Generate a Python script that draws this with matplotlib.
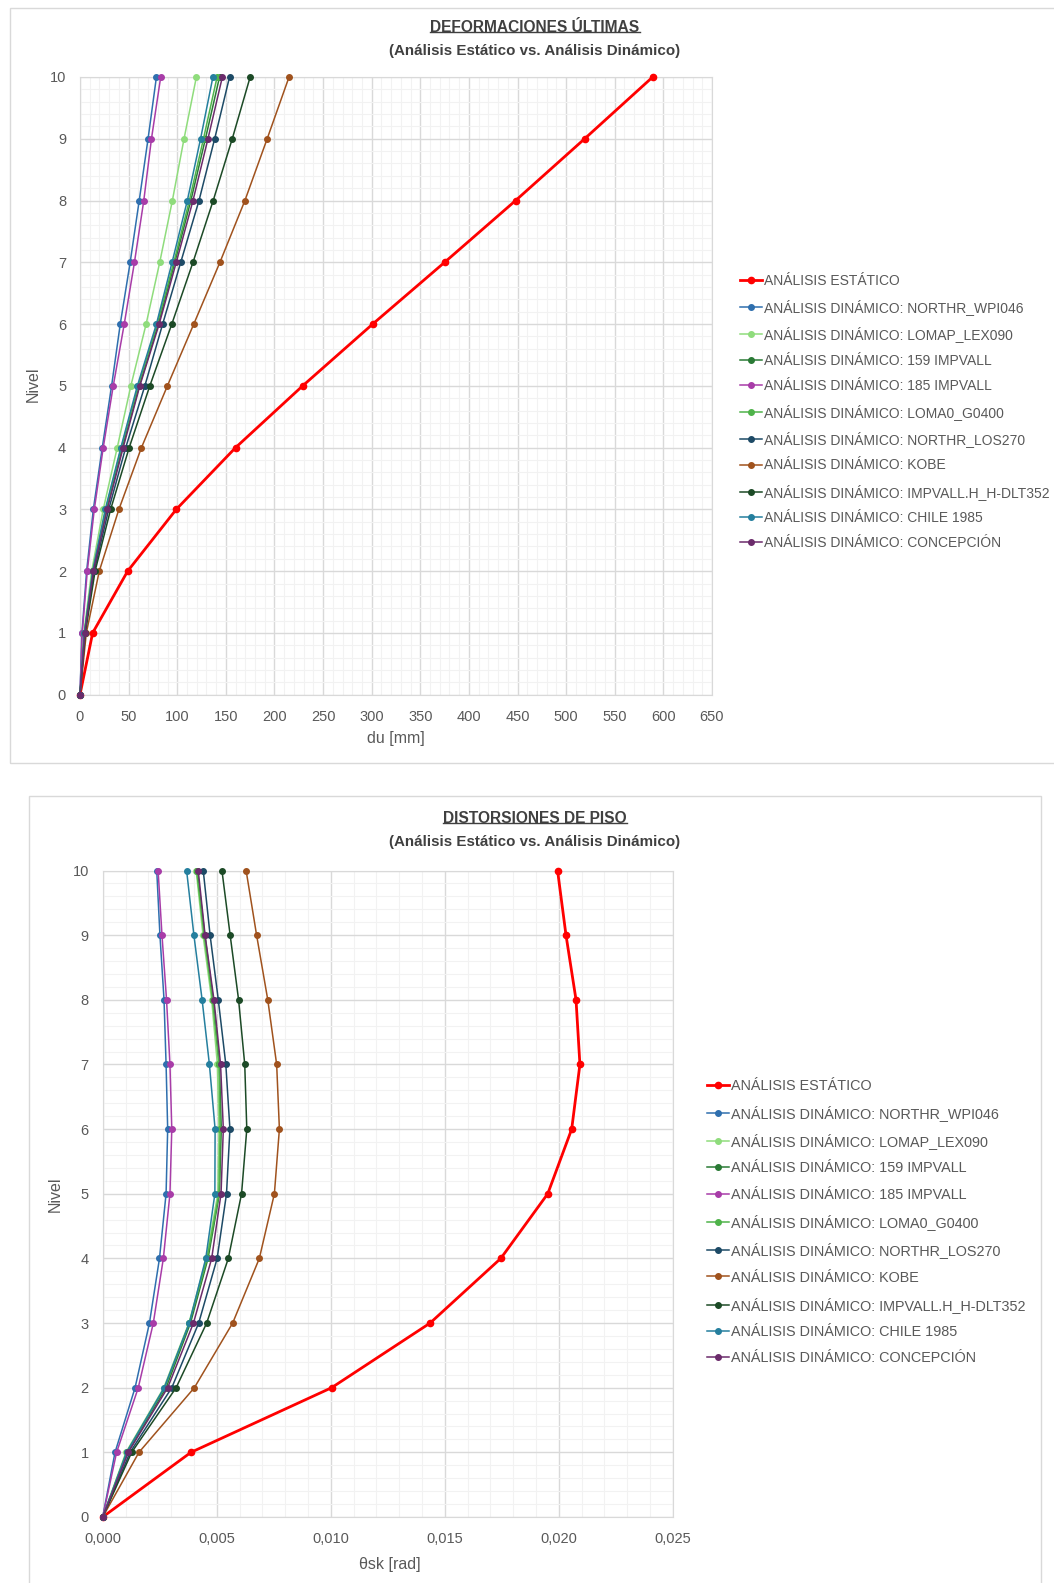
import matplotlib
matplotlib.use("Agg")
import matplotlib.pyplot as plt
from matplotlib import font_manager
from matplotlib.lines import Line2D
from matplotlib.patches import Rectangle
from matplotlib.ticker import MultipleLocator, FuncFormatter

# ---- data -------------------------------------------------------------
niveles = [0, 1, 2, 3, 4, 5, 6, 7, 8, 9, 10]

series_labels = [
    "ANÁLISIS ESTÁTICO",
    "ANÁLISIS DINÁMICO: NORTHR_WPI046",
    "ANÁLISIS DINÁMICO: LOMAP_LEX090",
    "ANÁLISIS DINÁMICO: 159 IMPVALL",
    "ANÁLISIS DINÁMICO: 185 IMPVALL",
    "ANÁLISIS DINÁMICO: LOMA0_G0400",
    "ANÁLISIS DINÁMICO: NORTHR_LOS270",
    "ANÁLISIS DINÁMICO: KOBE",
    "ANÁLISIS DINÁMICO: IMPVALL.H_H-DLT352",
    "ANÁLISIS DINÁMICO: CHILE 1985",
    "ANÁLISIS DINÁMICO: CONCEPCIÓN",
]
series_colors = ["#ff0000", "#2f6fae", "#8fdc7c", "#2a7a35", "#a83ca8", "#4fb34a",
                 "#1d4a66", "#a0521d", "#1c4a26", "#257f9e", "#6b2b6b"]

# deformaciones últimas du [mm]
du_estatico = [0, 13, 49, 99, 160, 229, 301, 375, 448, 519, 589]
du_northr_wpi046 = [0, 2.0, 6.8, 13.7, 22.9, 32.5, 41.4, 51.6, 60.9, 70.0, 78.6]
du_lomap_lex090 = [0, 4.0, 12.0, 23.9, 38.3, 52.3, 68.0, 82.0, 95.0, 107.0, 119.7]
du_159_impvall = [0, 4.7, 13.5, 27.0, 43.5, 61.0, 80.5, 97.5, 114.0, 129.0, 143.5]
du_185_impvall = [0, 2.3, 7.5, 14.7, 23.9, 34.2, 45.5, 56.0, 65.6, 73.5, 83.0]
du_loma0_g0400 = [0, 4.5, 13.2, 26.5, 42.5, 60.0, 79.5, 96.5, 112.5, 127.0, 141.0]
du_northr_los270 = [0, 5.0, 14.5, 29.5, 47.0, 66.7, 85.0, 103.6, 122.4, 138.5, 153.8]
du_kobe = [0, 6.5, 19.8, 40.0, 63.2, 89.9, 117.0, 143.9, 169.6, 192.5, 215.0]
du_impvall_h = [0, 5.5, 15.5, 31.5, 50.6, 71.8, 94.4, 116.2, 137.0, 156.6, 175.0]
du_chile_1985 = [0, 4.5, 13.0, 26.0, 42.0, 59.0, 78.6, 94.7, 110.4, 124.0, 136.7]
du_concepcion = [0, 5.0, 13.7, 28.0, 44.4, 61.5, 81.4, 99.0, 116.2, 131.6, 146.4]

# distorsiones de piso θsk [rad]
th_estatico = [0, 0.00387, 0.01004, 0.01436, 0.01746, 0.01952, 0.02057, 0.02093, 0.02076, 0.02032, 0.01995]
th_northr_wpi046 = [0, 0.00054, 0.00142, 0.00205, 0.00249, 0.00278, 0.00285, 0.00278, 0.00269, 0.00251, 0.00237]
th_lomap_lex090 = [0, 0.00102, 0.00268, 0.00378, 0.00455, 0.00505, 0.00510, 0.00503, 0.00478, 0.00440, 0.00410]
th_159_impvall = [0, 0.00110, 0.00278, 0.00385, 0.00462, 0.00512, 0.00520, 0.00512, 0.00485, 0.00448, 0.00415]
th_185_impvall = [0, 0.00061, 0.00156, 0.00222, 0.00266, 0.00295, 0.00303, 0.00295, 0.00280, 0.00260, 0.00243]
th_loma0_g0400 = [0, 0.00105, 0.00272, 0.00380, 0.00458, 0.00510, 0.00515, 0.00510, 0.00482, 0.00445, 0.00412]
th_northr_los270 = [0, 0.00120, 0.00303, 0.00421, 0.00502, 0.00543, 0.00558, 0.00540, 0.00507, 0.00471, 0.00441]
th_kobe = [0, 0.00159, 0.00402, 0.00570, 0.00687, 0.00753, 0.00775, 0.00763, 0.00724, 0.00675, 0.00629]
th_impvall_h = [0, 0.00127, 0.00322, 0.00456, 0.00551, 0.00609, 0.00632, 0.00623, 0.00596, 0.00559, 0.00523]
th_chile_1985 = [0, 0.00105, 0.00270, 0.00380, 0.00452, 0.00492, 0.00493, 0.00468, 0.00436, 0.00400, 0.00368]
th_concepcion = [0, 0.00112, 0.00285, 0.00398, 0.00478, 0.00519, 0.00529, 0.00517, 0.00488, 0.00449, 0.00419]

du_series = [du_estatico, du_northr_wpi046, du_lomap_lex090, du_159_impvall, du_185_impvall,
             du_loma0_g0400, du_northr_los270, du_kobe, du_impvall_h, du_chile_1985, du_concepcion]
th_series = [th_estatico, th_northr_wpi046, th_lomap_lex090, th_159_impvall, th_185_impvall,
             th_loma0_g0400, th_northr_los270, th_kobe, th_impvall_h, th_chile_1985, th_concepcion]

# ---- fonts ------------------------------------------------------------
installed = {f.name for f in font_manager.fontManager.ttflist}
BASE = "Liberation Sans" if "Liberation Sans" in installed else "DejaVu Sans"
if "Liberation Sans Narrow" in installed:
    TITLE_FONT, TITLE_SIZE = "Liberation Sans Narrow", 13.5
else:
    TITLE_FONT, TITLE_SIZE = BASE, 11.2
plt.rcParams["font.family"] = [BASE, "DejaVu Sans"]

W, H = 1054, 1583
TXT = "#595959"
TITLE_C = "#404040"


def fx(px):
    return px / W


def fy(py):
    return 1 - py / H


def style_axes(ax, xmajor, xminor):
    ax.xaxis.set_major_locator(MultipleLocator(xmajor))
    ax.xaxis.set_minor_locator(MultipleLocator(xminor))
    ax.yaxis.set_major_locator(MultipleLocator(1))
    ax.yaxis.set_minor_locator(MultipleLocator(0.2))
    ax.grid(which="major", color="#d9d9d9", lw=1.0)
    ax.grid(which="minor", color="#f2f2f2", lw=0.8)
    ax.set_axisbelow(True)
    for s in ax.spines.values():
        s.set_color("#d9d9d9")
    ax.tick_params(which="both", length=0, colors=TXT, labelsize=10.5)
    ax.tick_params(axis="x", pad=11)
    ax.tick_params(axis="y", pad=10)


def draw_series(ax, xs_list):
    for i, (xs, lab, c) in enumerate(zip(xs_list, series_labels, series_colors)):
        lw = 2.0 if i == 0 else 1.1
        ms = 4.5 if i == 0 else 4.0
        ax.plot(xs, niveles, color=c, lw=lw, marker="o", ms=ms, label=lab, clip_on=False, zorder=3 + i)


def add_title(fig, cx, cy, title, subtitle):
    t = fig.text(fx(cx), fy(cy), title, ha="center", va="center", fontsize=TITLE_SIZE,
                 fontweight="bold", family=TITLE_FONT, color=TITLE_C)
    fig.text(fx(cx), fy(cy + 23.5), subtitle, ha="center", va="center", fontsize=TITLE_SIZE - 0.3,
             fontweight="bold", family=TITLE_FONT, color=TITLE_C)
    return t


fig = plt.figure(figsize=(W / 100, H / 100), dpi=100)

# chart frames
fig.patches.append(Rectangle((fx(10), fy(763)), fx(1054) - fx(10) + 0.01, fy(8) - fy(763),
                             transform=fig.transFigure, fill=False, ec="#d9d9d9", lw=1.0))
fig.patches.append(Rectangle((fx(29), fy(1600)), fx(1041) - fx(29), fy(796) - fy(1600),
                             transform=fig.transFigure, fill=False, ec="#d9d9d9", lw=1.0))

# ---- top chart --------------------------------------------------------
ax1 = fig.add_axes([fx(80), fy(694.7), fx(712) - fx(80), fy(77) - fy(694.7)])
draw_series(ax1, du_series)
ax1.set_xlim(0, 650)
ax1.set_ylim(0, 10)
style_axes(ax1, 50, 10)
t1 = add_title(fig, 535, 27.5, "DEFORMACIONES ÚLTIMAS", "(Análisis Estático vs. Análisis Dinámico)")
fig.text(fx(396), fy(739), "du [mm]", ha="center", va="center", fontsize=11.5, color=TXT)
fig.text(fx(33), fy(384), "Nivel", ha="center", va="center", rotation=90, fontsize=11.5, color=TXT)
ax1.legend(loc="center left", bbox_to_anchor=(fx(740), fy(412)), bbox_transform=fig.transFigure,
           frameon=False, fontsize=10.0, labelcolor=TXT, handlelength=1.6, handletextpad=0.15,
           labelspacing=0.81, borderpad=0, borderaxespad=0)

# ---- bottom chart -----------------------------------------------------
ax2 = fig.add_axes([fx(102.7), fy(1517), fx(672.7) - fx(102.7), fy(870.5) - fy(1517)])
draw_series(ax2, th_series)
ax2.set_xlim(0, 0.025)
ax2.set_ylim(0, 10)
style_axes(ax2, 0.005, 0.001)
ax2.xaxis.set_major_formatter(FuncFormatter(lambda v, p: f"{v:.3f}".replace(".", ",")))
t2 = add_title(fig, 535, 818.5, "DISTORSIONES DE PISO", "(Análisis Estático vs. Análisis Dinámico)")
fig.text(fx(390), fy(1565), "θsk [rad]", ha="center", va="center", fontsize=11.5, color=TXT)
fig.text(fx(55.5), fy(1194.5), "Nivel", ha="center", va="center", rotation=90, fontsize=11.5, color=TXT)
ax2.legend(loc="center left", bbox_to_anchor=(fx(707), fy(1222)), bbox_transform=fig.transFigure,
           frameon=False, fontsize=10.4, labelcolor=TXT, handlelength=1.55, handletextpad=0.12,
           labelspacing=0.85, borderpad=0, borderaxespad=0)

# underline the titles
fig.canvas.draw()
inv = fig.transFigure.inverted()
for t in (t1, t2):
    bb = t.get_window_extent()
    (x0, y0), (x1, _) = inv.transform([(bb.x0, bb.y0 + 3), (bb.x1, bb.y0 + 3)])
    fig.add_artist(Line2D([x0, x1], [y0, y0], transform=fig.transFigure, color=TITLE_C, lw=1.0))

fig.savefig("out.png", dpi=100)
